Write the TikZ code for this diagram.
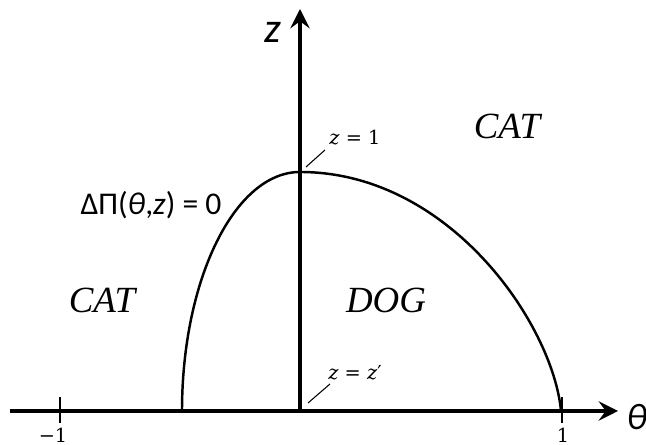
\documentclass[tikz,border=0pt]{standalone}
\usepackage{fontspec}
\setmainfont{Liberation Serif}
\newfontfamily\labelfont{Carlito}
\newfontfamily\annofont{DejaVu Serif}
\usetikzlibrary{arrows.meta}

\begin{document}
\begin{tikzpicture}[x=0.02cm, y=0.02cm,
    axis/.style={line width=2.2pt, -{Stealth[length=11pt, width=11pt, inset=4pt]}},
    boundary/.style={line width=1.4pt},
    tick/.style={line width=0.6pt},
    leader/.style={line width=0.6pt},
    region/.style={font=\fontsize{21}{24}\selectfont\itshape},
    small/.style={font=\annofont\fontsize{11}{13}\selectfont}]

    \useasboundingbox (0,0) rectangle (646,445);

    % Axes
    \coordinate (O) at (300,34);
    \coordinate (W) at (10,34);
    \coordinate (E) at (618,34);
    \coordinate (N) at (300,436);
    \draw[axis] (W) -- (E);
    \draw[axis] (O) -- (N);

    % Ticks
    \coordinate (t1a) at (60,48);
    \coordinate (t1b) at (60,22);
    \coordinate (t2a) at (562,48);
    \coordinate (t2b) at (562,22);
    \draw[tick] (t1a) -- (t1b);
    \draw[tick] (t2a) -- (t2b);

    % Boundary curve
    \coordinate (Lfoot) at (182,34);
    \coordinate (Top) at (300,273);
    \coordinate (Rfoot) at (561,34);
    \draw[boundary] (Lfoot) .. controls (182,166) and (235,273) .. (Top)
                            .. controls (450,273) and (553,120) .. (Rfoot);

    % Axis labels
    \node[font=\labelfont\itshape\fontsize{24}{26}\selectfont] (zlab) at (273,413) {z};
    \node[font=\labelfont\itshape\fontsize{21}{24}\selectfont] (thlab) at (637,28) {θ};
    \node[small, inner sep=0pt] (m1) at (53,10) {−1};
    \node[small, inner sep=0pt] (p1) at (563,10) {1};

    % Regions
    \node[region] (catL) at (102,145) {CAT};
    \node[region] (dog) at (386,145) {DOG};
    \node[region] (catR) at (507,319) {CAT};
    \node[font=\labelfont\fontsize{18}{21}\selectfont] (eq) at (151,240) {ΔΠ(\textit{θ},\textit{z}) = 0};

    % Annotations
    \node[small] (z1) at (355,307) {\textit{z} = 1};
    \node[small] (zz) at (355,72) {\textit{z} = \textit{z}′};
    \coordinate (z1a) at (306,278);
    \coordinate (z1b) at (325,295);
    \coordinate (zza) at (308,42);
    \coordinate (zzb) at (330,61);
    \draw[leader] (z1a) -- (z1b);
    \draw[leader] (zza) -- (zzb);

\end{tikzpicture}
\end{document}
